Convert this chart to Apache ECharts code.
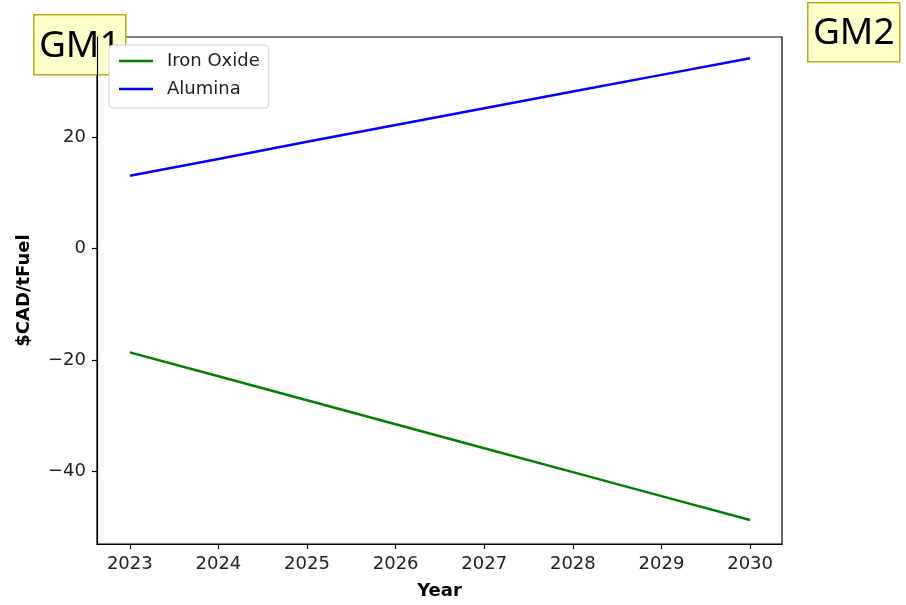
<!DOCTYPE html>
<html>
<head>
<meta charset="utf-8">
<script src="https://cdn.jsdelivr.net/npm/echarts@6/dist/echarts.min.js"></script>
<style>html,body{margin:0;padding:0;background:#fff}#chart{width:906px;height:605px}</style>
</head>
<body>
<div id="chart"></div>
<script>
const years = [2023, 2024, 2025, 2026, 2027, 2028, 2029, 2030];
const ironOxide = [-18.6, -22.9, -27.2, -31.5, -35.8, -40.1, -44.4, -48.7];
const alumina = [13.1, 16.1, 19.2, 22.2, 25.2, 28.2, 31.2, 34.2];
const xTicks = [2023, 2024, 2025, 2026, 2027, 2028, 2029, 2030];
const yTicks = [-40, -20, 0, 20];

const FONT = 'DejaVu Sans';
const chart = echarts.init(document.getElementById('chart'), null, {renderer: 'canvas'});
const pairs = (vals) => years.map((y, i) => [y, vals[i]]);

chart.setOption({
  animation: false,
  backgroundColor: '#fff',
  grid: {left: 97, top: 37, width: 685, height: 508, show: true, borderColor: '#000', borderWidth: 1.2, containLabel: false},
  xAxis: {
    type: 'value', min: 2022.63, max: 2030.36,
    name: 'Year', nameLocation: 'middle', nameGap: 38,
    nameTextStyle: {fontFamily: FONT, fontWeight: 'bold', fontSize: 18, color: '#000'},
    axisLine: {show: true, onZero: false, lineStyle: {color: '#000', width: 1.2}},
    axisTick: {show: true, length: 5, lineStyle: {color: '#000', width: 1.2}, customValues: xTicks},
    axisLabel: {customValues: xTicks, margin: 11, fontFamily: FONT, fontSize: 18, color: '#222', formatter: v => String(v)},
    splitLine: {show: false}
  },
  yAxis: {
    type: 'value', min: -53, max: 38,
    name: '$CAD/tFuel', nameLocation: 'middle', nameGap: 64, nameRotate: 90,
    nameTextStyle: {fontFamily: FONT, fontWeight: 'bold', fontSize: 18, color: '#000'},
    axisLine: {show: true, onZero: false, lineStyle: {color: '#000', width: 1.2}},
    axisTick: {show: true, length: 5, lineStyle: {color: '#000', width: 1.2}, customValues: yTicks},
    axisLabel: {customValues: yTicks, margin: 11, fontFamily: FONT, fontSize: 18, color: '#222',
      formatter: v => v < 0 ? '\u2212' + Math.abs(v) : String(v)},
    splitLine: {show: false}
  },
  legend: {
    orient: 'vertical', left: 109, top: 45,
    padding: [2, 9, 5, 10],
    icon: 'rect',
    itemWidth: 34, itemHeight: 2.5, itemGap: 0,
    backgroundColor: '#fff', borderColor: '#d0d0d0', borderWidth: 1, borderRadius: 4,
    textStyle: {fontFamily: FONT, fontSize: 18, color: '#222', lineHeight: 28, padding: [0, 0, 0, 9]},
    data: ['Iron Oxide', 'Alumina']
  },
  series: [
    {name: 'Iron Oxide', type: 'line', data: pairs(ironOxide), symbol: 'none', lineStyle: {color: '#008000', width: 2.5}, itemStyle: {color: '#008000'}},
    {name: 'Alumina', type: 'line', data: pairs(alumina), symbol: 'none', lineStyle: {color: '#0000ff', width: 2.5}, itemStyle: {color: '#0000ff'}}
  ],
  graphic: [
    {type: 'group', left: 33, top: 14, z: 100, children: [
      {type: 'rect', shape: {x: 0, y: 0, width: 92, height: 60}, style: {fill: '#ffffcc', stroke: '#b5ad1a', lineWidth: 1.5}},
      {type: 'text', x: 46, y: 32, style: {text: 'GM1', font: '37px "Noto Sans"', fill: '#000', textAlign: 'center', textVerticalAlign: 'middle'}}
    ]},
    {type: 'group', left: 807, top: 2, z: 100, children: [
      {type: 'rect', shape: {x: 0, y: 0, width: 92, height: 59}, style: {fill: '#ffffcc', stroke: '#b5ad1a', lineWidth: 1.5}},
      {type: 'text', x: 46, y: 31, style: {text: 'GM2', font: '37px "Noto Sans"', fill: '#000', textAlign: 'center', textVerticalAlign: 'middle'}}
    ]}
  ]
});
</script>
</body>
</html>
